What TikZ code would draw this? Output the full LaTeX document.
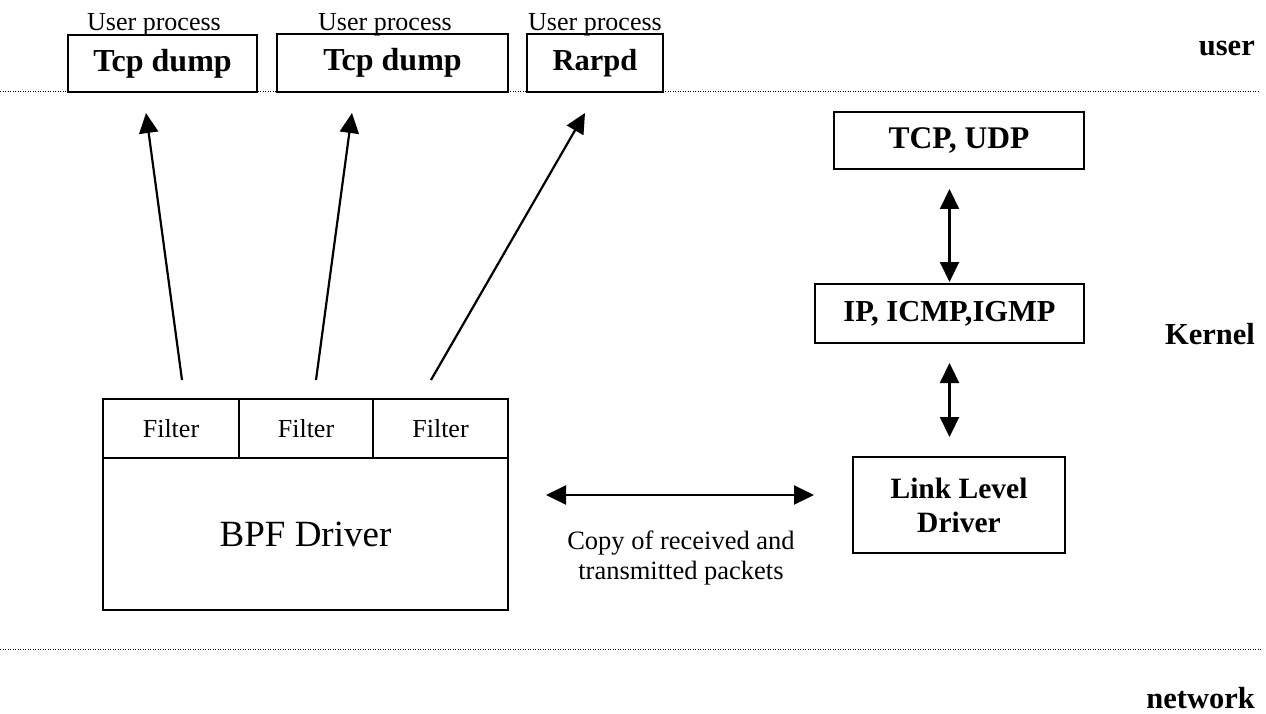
\documentclass[tikz,border=0pt]{standalone}
\usepackage{fontspec}
\setmainfont{Liberation Serif}
\usetikzlibrary{arrows.meta}
\begin{document}
\begin{tikzpicture}[x=1pt,y=-1pt,
  box/.style={draw, line width=2pt, inner sep=0pt},
  bf/.style={font=\fontsize{30.5}{34}\selectfont\bfseries},
  bfl/.style={font=\fontsize{32}{36}\selectfont\bfseries},
  rg/.style={font=\fontsize{26}{30}\selectfont},
  lbl/.style={font=\fontsize{30.5}{34}\selectfont\bfseries, inner sep=0pt},
  arr/.style={line width=2.2pt, -{Triangle[length=20pt,width=19pt]}},
  dbl/.style={line width=2.2pt, {Triangle[length=20pt,width=19pt]}-{Triangle[length=20pt,width=19pt]}},
  dots/.style={line width=1pt, dash pattern=on 1pt off 1.5pt}]
\useasboundingbox (0,0) rectangle (1266,714);
% separator lines
\draw[dots] (0,92) -- (1258,92);
\draw[dots] (0,649) -- (1262,649);
% layer labels
\node[lbl, anchor=base east] (luser) at (1255,56) {user};
\node[lbl, anchor=base east] (lkernel) at (1255,344) {Kernel};
\node[lbl, anchor=base east] (lnet) at (1255,708) {network};
% user processes
\node[rg, anchor=base, inner sep=0pt] (up1) at (154,31) {User process};
\node[rg, anchor=base, inner sep=0pt] (up2) at (385,31) {User process};
\node[rg, anchor=base, inner sep=0pt] (up3) at (595,31) {User process};
\node[box, bfl, minimum width=189pt, minimum height=57pt] (tcpa) at (162.5,63.5) {Tcp dump};
\node[box, bfl, minimum width=231pt, minimum height=58pt] (tcpb) at (392.5,63) {Tcp dump};
\node[box, bf, minimum width=136pt, minimum height=58pt] (rarp) at (595,63) {Rarpd};
% kernel stack
\node[box, minimum width=250pt, minimum height=57pt,
      font=\fontsize{31.5}{34}\selectfont\bfseries] (tcpudp) at (959,140.5) {TCP, UDP};
\node[box, bf, minimum width=269pt, minimum height=59pt] (ip) at (949.5,313.5) {IP, ICMP,IGMP};
\node[box, minimum width=212pt, minimum height=96pt, align=center,
      font=\fontsize{29.5}{34}\selectfont\bfseries] (link) at (959,505) {Link Level\\Driver};
% BPF
\node[box, minimum width=405pt, minimum height=211pt] (bpf) at (305.5,504.5) {};
\node[font=\fontsize{37}{40}\selectfont] (bpft) at (305.5,534) {BPF Driver};
\node[box, rg, minimum width=136pt, minimum height=59pt] (f1) at (171,428.5) {Filter};
\node[box, rg, minimum width=134pt, minimum height=59pt] (f2) at (306,428.5) {Filter};
\node[box, rg, minimum width=135pt, minimum height=59pt] (f3) at (440.5,428.5) {Filter};
% arrows up
\draw[arr] ([xshift=11pt,yshift=18pt]f1.north) -- ([xshift=-16.5pt,yshift=-20pt]tcpa.south);
\draw[arr] ([xshift=10pt,yshift=18pt]f2.north) -- ([xshift=-40.5pt,yshift=-20pt]tcpb.south);
\draw[arr] ([xshift=-9.5pt,yshift=18pt]f3.north) -- ([xshift=-10pt,yshift=-20pt]rarp.south);
% stack arrows
\draw[dbl, shorten <=19pt, shorten >=1pt] (ip.north |- tcpudp.south) -- (ip.north);
\draw[dbl, shorten <=19pt, shorten >=19pt] (ip.south) -- (ip.south |- link.north);
% copy arrow
\draw[dbl, shorten <=37pt, shorten >=38pt] ([yshift=9.5pt]bpf.east) -- ([yshift=10pt]link.west);
\node[font=\fontsize{26.5}{30}\selectfont, align=center] (copy) at (681,558) {Copy of received and\\transmitted packets};
\end{tikzpicture}
\end{document}
